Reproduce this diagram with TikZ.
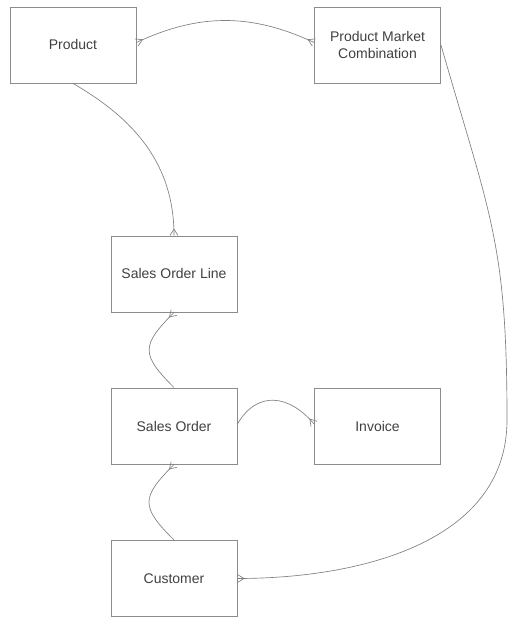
\documentclass[tikz,border=0pt]{standalone}
\usepackage{fontspec}
\setmainfont{Liberation Sans}
\newcommand\crowfoot[2]{\draw[rel,shift={(#1)},rotate=#2] (0,4) -- (6.5,0) -- (0,-4);}
\begin{document}
\begin{tikzpicture}[x=0.75pt,y=0.75pt,
  entity/.style={draw=black!45, line width=0.7pt, minimum width=94.5pt, minimum height=57pt,
    inner sep=0pt, align=center, font=\fontsize{10.5}{13}\selectfont, text=black!75},
  rel/.style={draw=black!50, line width=0.5pt}]
\useasboundingbox (0,0) rectangle (509,617);
\node[entity] (product)  at (73,572)    {Product};
\node[entity] (pmc)      at (377.5,572) {Product Market\\Combination};
\node[entity] (sol)      at (174,343)   {Sales Order Line};
\node[entity] (so)       at (174,191)   {Sales Order};
\node[entity] (invoice)  at (377.5,191) {Invoice};
\node[entity] (customer) at (174,38.5)  {Customer};

% Product -- Product Market Combination
\coordinate (a1) at ([yshift=1.9pt]product.east);
\coordinate (a2) at ([yshift=1.9pt]pmc.west);
\draw[rel] (a1) to[out=25,in=155] (a2);
\crowfoot{a1}{25}
\crowfoot{a2}{155}

% Product -- Sales Order Line
\draw[rel] (product.south) to[out=-30,in=90] (sol.north);
\crowfoot{sol.north}{90}

% Sales Order -- Sales Order Line
\draw[rel] (so.north) to[out=135,in=-135,looseness=1.6] (sol.south);
\crowfoot{sol.south}{-135}

% Sales Order -- Invoice
\coordinate (b1) at ([yshift=1.5pt]so.east);
\coordinate (b2) at ([yshift=1.5pt]invoice.west);
\draw[rel] (b1) to[out=60,in=130,looseness=1.3] (b2);
\crowfoot{b2}{130}

% Customer -- Sales Order
\draw[rel] (customer.north) to[out=135,in=-135,looseness=1.6] (so.south);
\crowfoot{so.south}{-135}

% Product Market Combination -- Customer
\coordinate (bend) at (507,197);
\draw[rel] (pmc.east) to[out=-74,in=90,looseness=1.2] (bend) to[out=-90,in=0] (customer.east);
\crowfoot{customer.east}{0}
\end{tikzpicture}
\end{document}
